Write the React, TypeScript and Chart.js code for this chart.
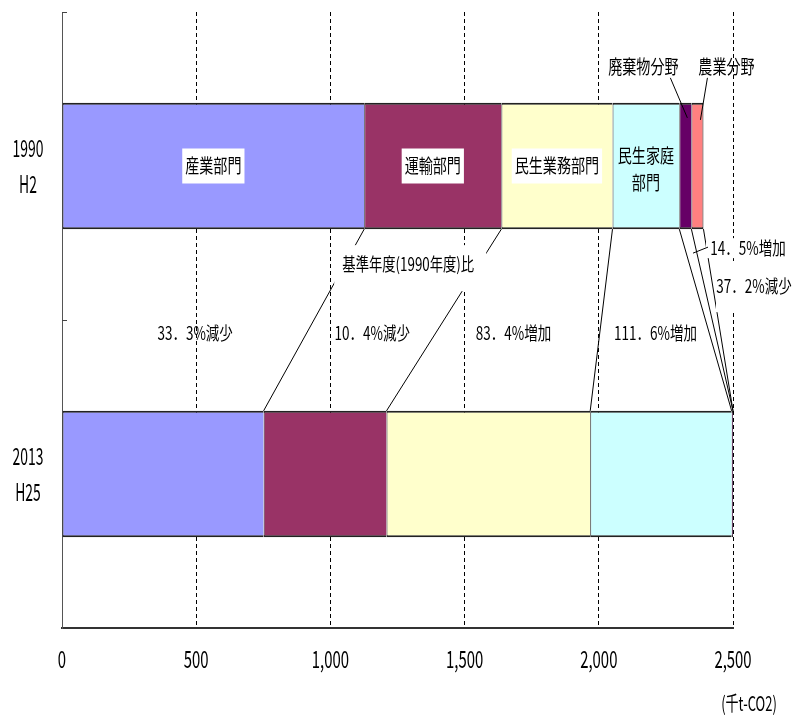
import { useEffect, useRef } from "react";
import { Chart, registerables } from "chart.js";

Chart.register(...registerables);

// ---- data ----
const categories = [
  ["1990", "H2"],
  ["2013", "H25"],
];
const sectorNames = ["産業部門", "運輸部門", "民生業務部門", "民生家庭部門", "廃棄物分野", "農業分野"];
const industry = [1126, 751];
const transport = [511, 458];
const commercial = [414, 759];
const residential = [249, 527];
const waste = [45, 52];
const agriculture = [45, 28];
const seriesValues = [industry, transport, commercial, residential, waste, agriculture];
const inBarLabels = [["産業部門"], ["運輸部門"], ["民生業務部門"], ["民生家庭", "部門"]];
const changeLabels = ["33．3%減少", "10．4%減少", "83．4%増加", "111．6%増加", "14．5%増加", "37．2%減少"];
const changeLabelAt = [496, 1156, 1682, 2211];
const baseLabel = "基準年度(1990年度)比";
const baseLabelAt = 1290;
const xTickValues = [0, 500, 1000, 1500, 2000, 2500];
const xTickLabels = ["0", "500", "1,000", "1,500", "2,000", "2,500"];
const unitLabel = "(千t-CO2)";

// ---- styles ----
const colors = ["#9999FF", "#993366", "#FFFFCC", "#CCFFFF", "#660066", "#FF8080"];
const FONT = '"Noto Sans CJK JP", "Noto Sans", sans-serif';

function drawText(
  ctx: CanvasRenderingContext2D,
  text: string,
  x: number,
  y: number,
  size: number,
  sx: number,
  align: "center" | "left" | "right" = "center"
) {
  ctx.save();
  ctx.font = `${size}px ${FONT}`;
  ctx.textBaseline = "middle";
  ctx.textAlign = "left";
  const w = ctx.measureText(text).width * sx;
  const left = align === "center" ? x - w / 2 : align === "right" ? x - w : x;
  ctx.translate(left, y);
  ctx.scale(sx, 1);
  ctx.fillStyle = "#000";
  ctx.fillText(text, 0, 0);
  ctx.restore();
  return w;
}

function line(ctx: CanvasRenderingContext2D, x1: number, y1: number, x2: number, y2: number) {
  ctx.beginPath();
  ctx.moveTo(x1, y1);
  ctx.lineTo(x2, y2);
  ctx.stroke();
}

function whiteBox(ctx: CanvasRenderingContext2D, x1: number, y1: number, x2: number, y2: number) {
  ctx.fillStyle = "#fff";
  ctx.fillRect(x1, y1, x2 - x1, y2 - y1);
}

const overlayPlugin = {
  id: "overlay",
  afterDatasetsDraw(chart: any) {
    const ctx: CanvasRenderingContext2D = chart.ctx;
    const { right, bottom, top } = chart.chartArea;
    const xs = chart.scales.x;
    const ys = chart.scales.y;
    const el = (d: number, i: number) => chart.getDatasetMeta(d).data[i] as any;
    const L = (e: any) => Math.min(e.x, e.base);
    const R = (e: any) => Math.max(e.x, e.base);
    const cx = (x: number) => Math.min(x, right);

    ctx.save();
    ctx.strokeStyle = "#000";
    ctx.lineWidth = 1;

    // connectors between 1990 and 2013 segment boundaries
    for (let d = 1; d < seriesValues.length; d++) {
      const a = el(d, 0);
      const b = el(d, 1);
      line(ctx, L(a), a.y + a.height / 2, cx(L(b)), b.y - b.height / 2);
    }
    {
      const a = el(seriesValues.length - 1, 0);
      const b = el(seriesValues.length - 1, 1);
      line(ctx, R(a), a.y + a.height / 2, cx(R(b)), b.y - b.height / 2);
    }

    // y-axis inner ticks at category boundaries
    ctx.strokeStyle = "#444";
    for (let i = 0; i < categories.length; i++) {
      const yy = Math.round(ys.getPixelForValue(i - 0.5)) + 0.5;
      line(ctx, ys.right, yy, ys.right + 5, yy);
    }

    const a0 = el(0, 0);
    const aBottom = a0.y + a0.height / 2;
    const aTop = a0.y - a0.height / 2;
    const b0 = el(0, 1);
    const bTop = b0.y - b0.height / 2;
    const midY = (aBottom + bTop) / 2;

    // base label box + text
    const bx = xs.getPixelForValue(baseLabelAt);
    const by = aBottom + 35;
    whiteBox(ctx, bx - 74, by - 19, bx + 78, by + 27);
    drawText(ctx, baseLabel, bx, by, 18, 0.74);

    // change labels
    for (let i = 0; i < 4; i++) {
      drawText(ctx, changeLabels[i], xs.getPixelForValue(changeLabelAt[i]), midY + 13, 18, 0.75);
    }
    const y145 = aBottom + 19;
    whiteBox(ctx, right - 27, y145 - 10, right + 60, y145 + 10);
    drawText(ctx, changeLabels[4], right + 15, y145, 18, 0.75);
    ctx.strokeStyle = "#000";
    line(ctx, right + 15 - 55, y145 + 5, right + 15 - 40, y145 - 1);
    const y372 = aBottom + 57;
    whiteBox(ctx, right - 17, y372 - 24, right + 60, y372 + 26);
    drawText(ctx, changeLabels[5], right + 21, y372, 18, 0.75);

    // labels inside the 1990 bar
    for (let d = 0; d < inBarLabels.length; d++) {
      const e = el(d, 0);
      const x = (L(e) + R(e)) / 2;
      const lines = inBarLabels[d];
      if (lines.length === 1) {
        ctx.save();
        ctx.font = `19px ${FONT}`;
        const w = ctx.measureText(lines[0]).width * 0.74;
        ctx.restore();
        whiteBox(ctx, x - w / 2 - 3, e.y - 17.5, x + w / 2 + 3, e.y + 17.5);
        drawText(ctx, lines[0], x, e.y, 19, 0.74);
      } else {
        drawText(ctx, lines[0], x, e.y - 10, 19, 0.74);
        drawText(ctx, lines[1], x, e.y + 17, 19, 0.74);
      }
    }

    // waste / agriculture labels with leaders
    const w0 = el(4, 0);
    const g0 = el(5, 0);
    const wc = (L(w0) + R(w0)) / 2;
    const gc = (L(g0) + R(g0)) / 2;
    const ly = aTop - 36;
    drawText(ctx, sectorNames[4], wc - 42, ly, 19, 0.74);
    drawText(ctx, sectorNames[5], gc + 29, ly, 19, 0.74);
    ctx.strokeStyle = "#000";
    line(ctx, wc - 15, ly + 11, wc + 2, aTop + 15);
    line(ctx, gc + 10, ly + 11, gc + 3, aTop + 17);

    // y category labels
    for (let i = 0; i < categories.length; i++) {
      const yc = ys.getPixelForValue(i);
      drawText(ctx, categories[i][0], ys.right - 34, yc - 18, 24, 0.58);
      drawText(ctx, categories[i][1], ys.right - 34, yc + 18, 24, 0.58);
    }

    // x tick labels
    for (let i = 0; i < xTickValues.length; i++) {
      drawText(ctx, xTickLabels[i], xs.getPixelForValue(xTickValues[i]), bottom + 31, 24, 0.62);
    }
    drawText(ctx, unitLabel, right + 16, bottom + 75, 20, 0.65);

    ctx.restore();
    void top;
  },
};

export default function App() {
  const canvasRef = useRef<HTMLCanvasElement | null>(null);

  useEffect(() => {
    if (!canvasRef.current) return;
    const chart = new Chart(canvasRef.current, {
      type: "bar",
      data: {
        labels: categories.map((c) => c.join(" ")),
        datasets: sectorNames.map((name, i) => ({
          label: name,
          data: seriesValues[i],
          backgroundColor: colors[i],
          borderColor: "#222",
          borderWidth: { top: 2, bottom: 2, left: 1, right: i === sectorNames.length - 1 ? 1 : 0 },
          borderSkipped: false,
          barPercentage: 0.41,
          categoryPercentage: 1,
          clip: 0,
        })),
      },
      options: {
        indexAxis: "y",
        animation: false,
        responsive: true,
        maintainAspectRatio: false,
        layout: { padding: { top: 12, right: 76, left: 0, bottom: 0 } },
        plugins: { legend: { display: false }, tooltip: { enabled: false } },
        scales: {
          x: {
            type: "linear",
            stacked: true,
            min: 0,
            max: 2500,
            ticks: { display: false, stepSize: 500 },
            grid: {
              display: true,
              drawTicks: false,
              color: (c: any) => (c.tick && c.tick.value === 0 ? "rgba(0,0,0,0)" : "#000"),
              lineWidth: 1,
            },
            border: { display: true, color: "#333", width: 2, dash: [4, 3] },
            afterFit: (s: any) => {
              s.height = 88;
            },
          },
          y: {
            type: "category",
            stacked: true,
            offset: true,
            ticks: { display: false },
            grid: { display: false },
            border: { display: true, color: "#555", width: 1 },
            afterFit: (s: any) => {
              s.width = 62;
            },
          },
        },
      } as any,
      plugins: [overlayPlugin],
    });
    return () => chart.destroy();
  }, []);

  return (
    <div style={{ position: "absolute", left: 0, top: 0, width: 809, height: 716, background: "#fff" }}>
      <canvas ref={canvasRef} />
    </div>
  );
}
